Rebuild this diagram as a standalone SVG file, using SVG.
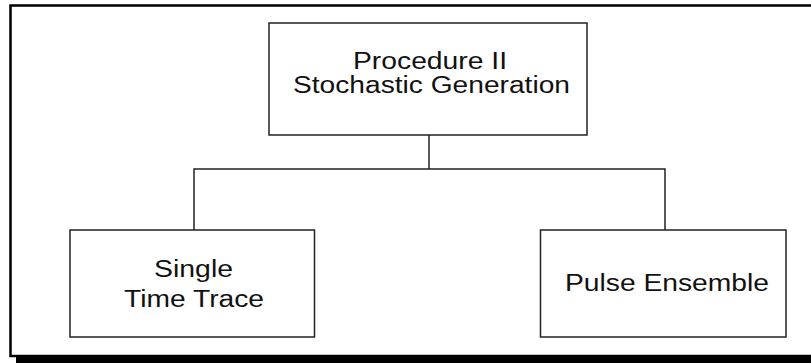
<svg xmlns="http://www.w3.org/2000/svg" width="811" height="363" viewBox="0 0 811 363">
<style>
.box{fill:#fff;stroke:#222;stroke-width:1.5}
.conn{fill:none;stroke:#222;stroke-width:1.5}
text{font-family:"Liberation Sans",Arial,sans-serif;font-size:23px;fill:#111;text-anchor:middle}
</style>
<rect width="811" height="363" fill="#fff"/>
<g id="frame">
<rect x="16" y="356" width="800" height="7" fill="#000"/>
<rect x="10.5" y="5.5" width="810" height="350.5" fill="none" stroke="#000" stroke-width="2.5"/>
</g>
<g id="connectors">
<path class="conn" d="M429 135V169M194 230V169H665V230"/>
</g>
<g id="n1">
<rect class="box" x="269" y="23" width="318" height="112"/>
<text x="430" y="69" textLength="154" lengthAdjust="spacingAndGlyphs">Procedure II</text>
<text x="431.5" y="93" textLength="277" lengthAdjust="spacingAndGlyphs">Stochastic Generation</text>
</g>
<g id="n2">
<rect class="box" x="70" y="230" width="244.5" height="107"/>
<text x="193.5" y="277" textLength="79" lengthAdjust="spacingAndGlyphs">Single</text>
<text x="194" y="307" textLength="140" lengthAdjust="spacingAndGlyphs">Time Trace</text>
</g>
<g id="n3">
<rect class="box" x="540.5" y="230" width="245.5" height="107"/>
<text x="667" y="291" textLength="204" lengthAdjust="spacingAndGlyphs">Pulse Ensemble</text>
</g>
</svg>
